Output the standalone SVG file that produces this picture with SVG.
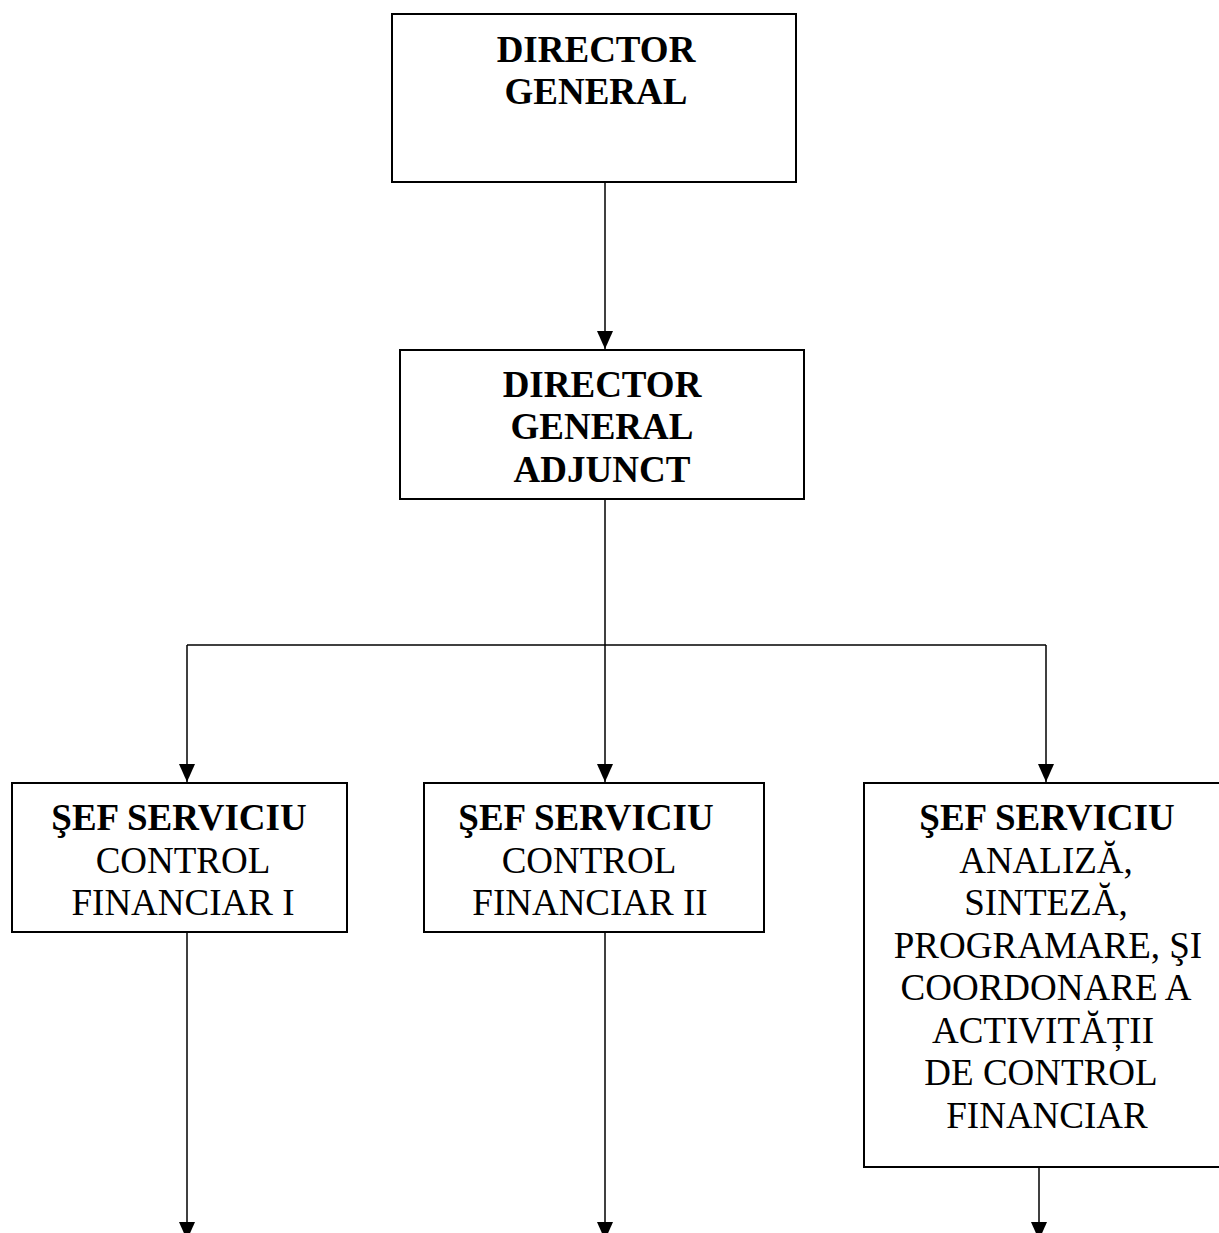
<svg xmlns="http://www.w3.org/2000/svg" width="1219" height="1233" viewBox="0 0 1219 1233">
  <style>
    .box { fill: #fff; stroke: #000; stroke-width: 2; }
    .link { fill: none; stroke: #000; stroke-width: 1.5; }
    .lbl { font-family: 'Liberation Serif', 'Times New Roman', Times, serif; font-size: 37px; fill: #000; text-anchor: middle; }
    .b { font-weight: bold; }
  </style>
  <defs>
    <!-- filled triangular head, drawn along +x so orient="auto" follows the line -->
    <marker id="arrow" viewBox="0 0 18 16" refX="18" refY="8" markerWidth="18" markerHeight="16" markerUnits="userSpaceOnUse" orient="auto">
      <path d="M0,0 L18,8 L0,16 Z" fill="#000"/>
    </marker>
  </defs>

  <rect width="1219" height="1233" fill="#fff"/>

  <!-- connectors -->
  <g id="connectors">
    <path class="link" d="M605,182 V349" marker-end="url(#arrow)"/>
    <path class="link" d="M605,499 V645"/>
    <path class="link" d="M187,645 H1046"/>
    <path class="link" d="M187,645 V782" marker-end="url(#arrow)"/>
    <path class="link" d="M605,645 V782" marker-end="url(#arrow)"/>
    <path class="link" d="M1046,645 V782" marker-end="url(#arrow)"/>
    <path class="link" d="M187,926 V1240" marker-end="url(#arrow)"/>
    <path class="link" d="M605,926 V1240" marker-end="url(#arrow)"/>
    <path class="link" d="M1039,1167 V1240" marker-end="url(#arrow)"/>
  </g>

  <g class="lbl" font-family="Liberation Serif, serif">
    <!-- top level -->
    <g id="director-general">
      <rect class="box" x="392" y="14" width="404" height="168"/>
      <text class="b" x="596" y="62">DIRECTOR</text>
      <text class="b" x="596" y="104">GENERAL</text>
    </g>

    <!-- deputy -->
    <g id="director-general-adjunct">
      <rect class="box" x="400" y="350" width="404" height="149"/>
      <text class="b" x="602" y="397">DIRECTOR</text>
      <text class="b" x="602" y="439">GENERAL</text>
      <text class="b" x="602" y="482">ADJUNCT</text>
    </g>

    <!-- service heads -->
    <g id="sef-control-1">
      <rect class="box" x="12" y="783" width="335" height="149"/>
      <text class="b" x="179" y="830">ŞEF SERVICIU</text>
      <text x="183" y="873">CONTROL</text>
      <text x="183" y="915">FINANCIAR I</text>
    </g>

    <g id="sef-control-2">
      <rect class="box" x="424" y="783" width="340" height="149"/>
      <text class="b" x="586" y="830">ŞEF SERVICIU</text>
      <text x="589" y="873">CONTROL</text>
      <text x="590" y="915">FINANCIAR II</text>
    </g>

    <g id="sef-analiza">
      <rect class="box" x="864" y="783" width="362" height="384"/>
      <text class="b" x="1047" y="830">ŞEF SERVICIU</text>
      <text x="1046" y="873">ANALIZĂ,</text>
      <text x="1046" y="915">SINTEZĂ,</text>
      <text x="1048" y="958">PROGRAMARE, ŞI</text>
      <text x="1046" y="1000">COORDONARE A</text>
      <text x="1043" y="1043">ACTIVITĂȚII</text>
      <text x="1041" y="1085">DE CONTROL</text>
      <text x="1047" y="1128">FINANCIAR</text>
    </g>
  </g>
</svg>
